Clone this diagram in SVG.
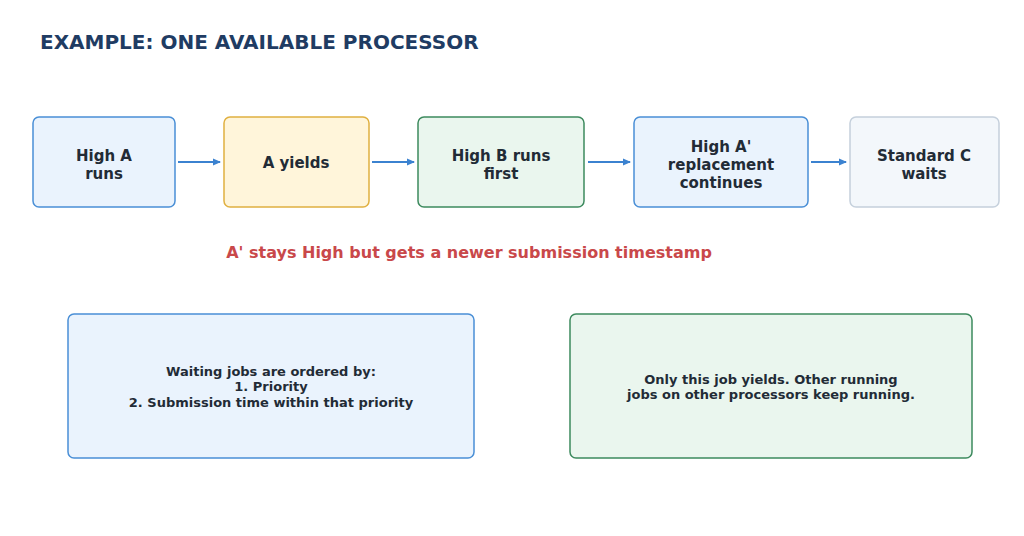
<svg xmlns="http://www.w3.org/2000/svg" width="1024" height="536" viewBox="0 0 1024 536">
<style>
text{font-family:"DejaVu Sans",sans-serif;font-weight:bold;fill:#222b36;text-anchor:middle}
.n{font-size:15px}
.s{font-size:13px}
.c{stroke:#3b82d0;stroke-width:2;fill:none;marker-end:url(#a)}
</style>
<defs><marker id="a" markerWidth="8" markerHeight="8" refX="7" refY="4" orient="auto" markerUnits="userSpaceOnUse"><path d="M0,0.5L8,4L0,7.5z" fill="#3b82d0"/></marker></defs>
<rect width="1024" height="536" fill="#fff"/>
<text x="40" y="49" style="font-size:20px;fill:#1f3c63;text-anchor:start">EXAMPLE: ONE AVAILABLE PROCESSOR</text>
<g id="n1"><rect x="33" y="117" width="142" height="90" rx="6" fill="#eaf3fd" stroke="#4a8fd6" stroke-width="1.5"/><text class="n" x="104" y="161">High A</text><text class="n" x="104" y="179">runs</text></g>
<g id="n2"><rect x="224" y="117" width="145" height="90" rx="6" fill="#fff5da" stroke="#e0b040" stroke-width="1.5"/><text class="n" x="296" y="168">A yields</text></g>
<g id="n3"><rect x="418" y="117" width="166" height="90" rx="6" fill="#eaf6ee" stroke="#3d8a5e" stroke-width="1.5"/><text class="n" x="501" y="161">High B runs</text><text class="n" x="501" y="179">first</text></g>
<g id="n4"><rect x="634" y="117" width="174" height="90" rx="6" fill="#eaf3fd" stroke="#4a8fd6" stroke-width="1.5"/><text class="n" x="721" y="152">High A'</text><text class="n" x="721" y="170">replacement</text><text class="n" x="721" y="188">continues</text></g>
<g id="n5"><rect x="850" y="117" width="149" height="90" rx="6" fill="#f3f7fb" stroke="#c5d0dc" stroke-width="1.5"/><text class="n" x="924" y="161">Standard C</text><text class="n" x="924" y="179">waits</text></g>
<g id="connectors">
<path class="c" d="M178,162H220"/><path class="c" d="M372,162H414"/><path class="c" d="M588,162H630"/><path class="c" d="M811,162H846"/>
</g>
<text x="469" y="258" style="font-size:16px;fill:#c9484a">A' stays High but gets a newer submission timestamp</text>
<g id="b1"><rect x="68" y="314" width="406" height="144" rx="6" fill="#eaf3fd" stroke="#4a8fd6" stroke-width="1.5"/><text class="s" x="271" y="376">Waiting jobs are ordered by:</text><text class="s" x="271" y="391">1. Priority</text><text class="s" x="271" y="407">2. Submission time within that priority</text></g>
<g id="b2"><rect x="570" y="314" width="402" height="144" rx="6" fill="#eaf6ee" stroke="#3d8a5e" stroke-width="1.5"/><text class="s" x="771" y="384">Only this job yields. Other running</text><text class="s" x="771" y="399">jobs on other processors keep running.</text></g>
</svg>
